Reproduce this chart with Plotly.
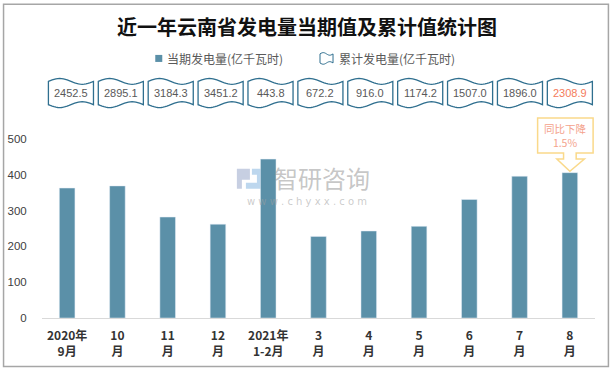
import math
import plotly.graph_objects as go

# ---------------- data ----------------
categories = ["2020年<br>9月", "10<br>月", "11<br>月", "12<br>月", "2021年<br>1-2月",
              "3<br>月", "4<br>月", "5<br>月", "6<br>月", "7<br>月", "8<br>月"]
current_values = [363, 369, 282, 262, 443.8, 228, 243, 256, 331, 396, 406]
cumulative_values = [2452.5, 2895.1, 3184.3, 3451.2, 443.8, 672.2, 916.0, 1174.2, 1507.0, 1896.0, 2308.9]
y_ticks = [0, 100, 200, 300, 400, 500]
series_current = "当期发电量(亿千瓦时)"
series_cumulative = "累计发电量(亿千瓦时)"
title_text = "近一年云南省发电量当期值及累计值统计图"
callout_text = "同比下降<br>1.5%"

# ---------------- layout geometry (pixels) ----------------
W, H = 614, 373
L, R = 42.4, 594.6          # plot area left/right
T, B = 139.3, 317.7         # plot area top (500) / bottom (0)
YMAX = 500
n = len(categories)

BAR = "#5B90A8"
WAVE = "#2F6F8F"
FONT = "Noto Sans CJK SC"


def pxx(px):
    return (px - L) / (R - L)


def pxy(py):
    return (B - py) / (B - T)


def bar_center_px(i):
    return L + (i + 0.5) * (R - L) / n


x_idx = list(range(n))

fig = go.Figure()
fig.add_trace(go.Bar(
    x=x_idx, y=current_values, marker_color=BAR, width=0.31,
    name=series_current, showlegend=False, hoverinfo="y"))

shapes = []
annotations = []

# outer frame
shapes.append(dict(type="rect", xref="paper", yref="paper",
                   x0=pxx(4), x1=pxx(608), y0=pxy(366), y1=pxy(5),
                   line=dict(color="#A6A6A6", width=1.5), fillcolor="rgba(0,0,0,0)"))


def tape_path(x0, x1, ytop, ybot, amp, steps=24):
    pts_top = []
    pts_bot = []
    for k in range(steps + 1):
        t = k / steps
        xp = x0 + t * (x1 - x0)
        pts_top.append((xp, ytop - amp * math.sin(2 * math.pi * t)))
        pts_bot.append((xp, ybot + amp * math.sin(2 * math.pi * t)))
    pts = pts_top + pts_bot[::-1]
    s = "M " + " L ".join(f"{pxx(a):.5f},{pxy(b):.5f}" for a, b in pts) + " Z"
    return s


def text_ann(xp, yp, text, font, xanchor="center"):
    return dict(xref="paper", yref="paper", x=pxx(xp), y=pxy(yp), xanchor=xanchor,
                yanchor="middle", text=text, showarrow=False, font=font)


# cumulative banners
for i, v in enumerate(cumulative_values):
    cx = bar_center_px(i) + 3.8 * (1 - i / (n - 1))
    hw = 22.5
    shapes.append(dict(type="path", xref="paper", yref="paper",
                       path=tape_path(cx - hw, cx + hw, 81.9, 105.1, 2.9),
                       line=dict(color=WAVE, width=1.3), fillcolor="white"))
    annotations.append(text_ann(cx, 93.5, f"{v:.1f}",
                                dict(family="Liberation Sans", size=11,
                                     color="#F47B5B" if i == n - 1 else "#595959")))

# legend
shapes.append(dict(type="rect", xref="paper", yref="paper",
                   x0=pxx(155.5), x1=pxx(162.5), y0=pxy(62.5), y1=pxy(55.5),
                   line=dict(width=0), fillcolor=BAR))
annotations.append(text_ann(165, 59, series_current,
                            dict(family=FONT, size=12, color="#595959"), "left"))
shapes.append(dict(type="path", xref="paper", yref="paper",
                   path=tape_path(320, 333, 54.5, 63.5, 1.3, 12),
                   line=dict(color=WAVE, width=1), fillcolor="white"))
annotations.append(text_ann(337, 59, series_cumulative,
                            dict(family=FONT, size=12, color="#595959"), "left"))

# callout on the last bar
bc = bar_center_px(n - 1)
tip_y = current_values[-1] / YMAX + 1.3 / (B - T)
bl, br, bt, bb = 537.3, 592.7, 118.3, 153.3
sl, sr, wl, wr, wy = bc - 6.3, bc + 6.3, bc - 13, bc + 14.5, 159.3
pts = [(bl, bt), (br, bt), (br, bb), (sr, bb), (sr, wy), (wr, wy)]
path = "M " + " L ".join(f"{pxx(a):.5f},{pxy(b):.5f}" for a, b in pts)
path += f" L {pxx(bc):.5f},{tip_y:.5f}"
pts2 = [(wl, wy), (sl, wy), (sl, bb), (bl, bb)]
path += " L " + " L ".join(f"{pxx(a):.5f},{pxy(b):.5f}" for a, b in pts2) + " Z"
shapes.append(dict(type="path", xref="paper", yref="paper", path=path,
                   line=dict(color="#FAD98A", width=1.5), fillcolor="white"))
annotations.append(text_ann(565, 136, callout_text,
                            dict(family=FONT, size=10.5, color="#F4A28C")))

# watermark (logo blocks drawn below bars)
shapes.append(dict(type="path", xref="paper", yref="paper", layer="below",
                   path=f"M {pxx(237):.5f},{pxy(169):.5f} L {pxx(250):.5f},{pxy(169):.5f} L {pxx(250):.5f},{pxy(180):.5f} L {pxx(242):.5f},{pxy(180):.5f} L {pxx(242):.5f},{pxy(189):.5f} L {pxx(237):.5f},{pxy(189):.5f} Z",
                   line=dict(width=0), fillcolor="#C7CFE2"))
shapes.append(dict(type="path", xref="paper", yref="paper", layer="below",
                   path=f"M {pxx(252):.5f},{pxy(169):.5f} L {pxx(263):.5f},{pxy(169):.5f} L {pxx(263):.5f},{pxy(189):.5f} L {pxx(246):.5f},{pxy(189):.5f} L {pxx(246):.5f},{pxy(183):.5f} L {pxx(257):.5f},{pxy(183):.5f} L {pxx(257):.5f},{pxy(175):.5f} L {pxx(252):.5f},{pxy(175):.5f} Z",
                   line=dict(width=0), fillcolor="#BDD7EE"))
annotations.append(text_ann(322, 178, "智研咨询",
                            dict(family=FONT, size=24, color="rgba(150,150,150,0.55)")))
annotations.append(text_ann(307, 202, "w w w . c h y x x . c o m",
                            dict(family="DejaVu Sans", size=10, color="rgba(160,160,160,0.55)")))

fig.update_layout(
    width=W, height=H,
    margin=dict(l=L, r=W - R, t=T, b=H - B, pad=0, autoexpand=False),
    paper_bgcolor="white", plot_bgcolor="white",
    showlegend=False,
    title=dict(text=title_text, x=0.5, xref="container", xanchor="center",
               y=1 - 28 / H, yref="container", yanchor="middle",
               font=dict(family=FONT, size=20, color="#111111", weight="bold")),
    xaxis=dict(range=[-0.5, n - 0.5], tickmode="array", tickvals=x_idx, ticktext=categories,
               tickfont=dict(family=FONT, size=12, color="#333333", weight="bold"),
               showline=True, linecolor="#D9D9D9", linewidth=1, ticks="",
               showgrid=False, zeroline=False, fixedrange=True, ticklabelstandoff=7,
               automargin=False),
    yaxis=dict(range=[0, YMAX], tickmode="array", tickvals=y_ticks,
               tickfont=dict(family="Liberation Sans", size=11.5, color="#404040"),
               showline=False, showgrid=False, zeroline=False,
               ticks="outside", ticklen=12, tickcolor="rgba(0,0,0,0)",
               fixedrange=True, automargin=False),
    shapes=shapes, annotations=annotations,
    bargap=0.69,
)

fig.write_html("out.html", config={"displayModeBar": False},
               post_script="document.body.style.margin='0';")
